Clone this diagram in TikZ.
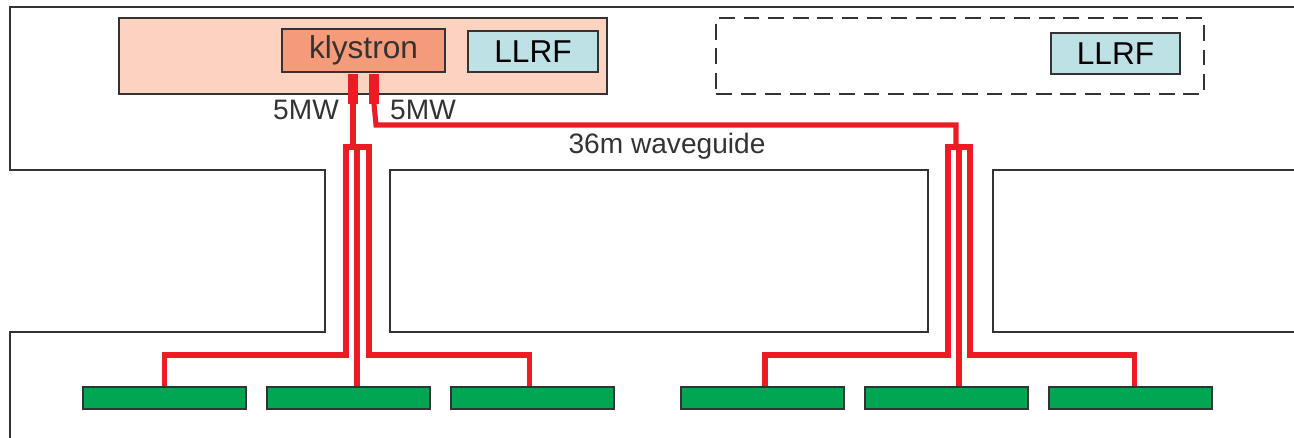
\documentclass[tikz,border=0pt]{standalone}
\usepackage{fontspec}
\setmainfont{Liberation Sans}
\usetikzlibrary{positioning}
\definecolor{wgred}{HTML}{ED1C24}
\definecolor{linegray}{HTML}{333333}
\definecolor{modpink}{HTML}{FCD3C0}
\definecolor{klysalmon}{HTML}{F59B7A}
\definecolor{llrfcyan}{HTML}{BDE1E4}
\definecolor{cavgreen}{HTML}{00A651}

\begin{document}
\begin{tikzpicture}[x=0.02cm, y=-0.02cm,
  wall/.style={draw=linegray, line width=1.1pt},
  area/.style={draw=linegray, fill=modpink, line width=0.9pt, minimum width=9.76cm, minimum height=1.52cm, inner sep=0pt},
  spare/.style={draw=linegray, dashed, dash pattern=on 9pt off 5pt, line width=0.9pt, minimum width=9.76cm, minimum height=1.52cm, inner sep=0pt},
  box/.style={draw=linegray, line width=1.1pt, inner sep=0pt, font=\fontsize{18}{20}\selectfont},
  cavity/.style={draw=linegray, fill=cavgreen, line width=1.1pt, minimum width=3.26cm, minimum height=0.44cm, inner sep=0pt},
  wg/.style={draw=wgred, line width=2.9pt},
  wgout/.style={draw=wgred, line width=5.4pt},
  lbl/.style={text=linegray, font=\fontsize{16}{18}\selectfont}]
  \useasboundingbox (0,0) rectangle (1294,438);

  \draw[wall] (1294,7) -- (10,7) -- (10,170) -- (325,170) -- (325,332) -- (10,332) -- (10,438);
  \draw[wall] (390,170) rectangle (928,332);
  \draw[wall] (1294,170) -- (993,170) -- (993,332) -- (1294,332);

  \node[area] (modu) at (363,56) {};
  \node[spare] (spare) at (960,56) {};
  \node[box, fill=klysalmon, text=linegray, minimum width=3.26cm, minimum height=0.86cm] (kly) at (363.5,50.5) {klystron};
  \node[box, fill=llrfcyan, minimum width=2.6cm, minimum height=0.82cm] (llrfA) at (533,51.5) {LLRF};
  \node[box, fill=llrfcyan, minimum width=2.58cm, minimum height=0.82cm] (llrfB) at (1115.5,53.5) {LLRF};

  \node[cavity] (cav1) at (164.5,398) {};
  \node[cavity, right=0.38cm of cav1] (cav2) {};
  \node[cavity, right=0.38cm of cav2] (cav3) {};
  \node[cavity] (cav4) at (762.5,398) {};
  \node[cavity, right=0.38cm of cav4] (cav5) {};
  \node[cavity, right=0.38cm of cav5] (cav6) {};

  \coordinate (oA) at (353,104);
  \coordinate (oB) at (374,104);
  \coordinate (jA) at (353,147);
  \coordinate (bB) at (376,125);
  \coordinate (cB) at (956,125);
  \coordinate (jB) at (956,147);
  \coordinate (hA) at (0,355);

  \draw[wgout] ([yshift=-0.6pt]kly.south -| oA) -- (oA);
  \draw[wgout] ([yshift=-0.6pt]kly.south -| oB) -- (oB);
  \draw[wg] (oA) -- (jA);
  \draw[wg] (oB) -- (bB) -- (cB) -- (jB);

  \draw[wg] (jA) -- ++(-7,0) |- (cav1.north |- hA) -- (cav1.north);
  \draw[wg] (jA) -- ++(4,0) coordinate (mA) -- (mA |- cav2.north);
  \draw[wg] (jA) -- ++(16,0) |- ([xshift=-0.05cm]cav3.north |- hA) -- ([xshift=-0.05cm]cav3.north);

  \draw[wg] (jB) -- ++(-8,0) |- ([xshift=0.05cm]cav4.north |- hA) -- ([xshift=0.05cm]cav4.north);
  \draw[wg] (jB) -- ++(3,0) coordinate (mB) -- (mB |- cav5.north);
  \draw[wg] (jB) -- ++(14,0) |- ([xshift=0.09cm]cav6.north |- hA) -- ([xshift=0.09cm]cav6.north);

  \node[lbl, anchor=east] (pwrA) at (345,110) {5MW};
  \node[lbl, anchor=west] (pwrB) at (384,110) {5MW};
  \node[lbl] (wglen) at (667,146) {36m waveguide};
\end{tikzpicture}
\end{document}
